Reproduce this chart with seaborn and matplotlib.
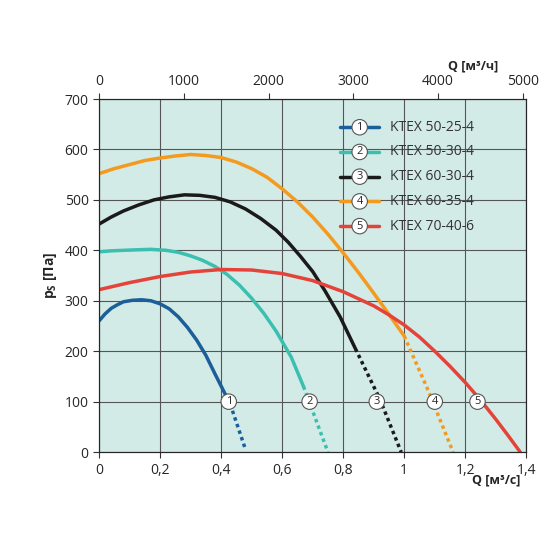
import matplotlib
matplotlib.use("Agg")
import matplotlib.pyplot as plt
import seaborn as sns
import pandas as pd

names = ["KTEX 50-25-4", "KTEX 50-30-4", "KTEX 60-30-4", "KTEX 60-35-4", "KTEX 70-40-6"]
colors = ["#1a5e9a", "#3bbfb0", "#1a1a1a", "#f39a1f", "#e5433a"]
solid_q = [
    [0, 0.02, 0.04, 0.06, 0.08, 0.11, 0.14, 0.17, 0.2, 0.23, 0.26, 0.29, 0.32, 0.35, 0.38, 0.405, 0.43],
    [0, 0.04, 0.08, 0.12, 0.17, 0.22, 0.26, 0.3, 0.34, 0.38, 0.42, 0.46, 0.5, 0.54, 0.58, 0.63, 0.67],
    [0, 0.04, 0.08, 0.13, 0.18, 0.23, 0.28, 0.33, 0.38, 0.43, 0.48, 0.53, 0.58, 0.62, 0.66, 0.7, 0.74, 0.79, 0.84],
    [0, 0.05, 0.1, 0.15, 0.2, 0.25, 0.3, 0.35, 0.4, 0.45, 0.5, 0.55, 0.6, 0.65, 0.7, 0.75, 0.8, 0.85, 0.9, 0.95, 1.0],
    [0, 0.1, 0.2, 0.3, 0.4, 0.5, 0.6, 0.7, 0.8, 0.9, 0.95, 1.0, 1.05, 1.1, 1.15, 1.2, 1.25, 1.3, 1.34, 1.38],
]
solid_p = [
    [260, 274, 285, 292, 298, 301, 302, 300, 294, 284, 268, 247, 222, 192, 155, 125, 95],
    [397, 399, 400, 401, 402, 400, 396, 389, 380, 368, 352, 331, 305, 275, 240, 188, 130],
    [452, 466, 478, 490, 500, 506, 510, 509, 505, 496, 482, 463, 440, 416, 388, 358, 320, 268, 205],
    [552, 562, 570, 578, 583, 587, 590, 588, 584, 575, 562, 545, 522, 496, 466, 432, 395, 356, 315, 273, 230],
    [322, 336, 348, 357, 362, 361, 354, 340, 318, 290, 272, 252, 228, 200, 170, 138, 103, 65, 33, 0],
]
dot_q = [[0.43, 0.455, 0.48], [0.67, 0.71, 0.75], [0.84, 0.92, 0.99], [1.0, 1.08, 1.16], []]
dot_p = [[95, 50, 5], [130, 65, 0], [205, 105, 0], [230, 120, 0], []]
label_q = [0.425, 0.69, 0.91, 1.1, 1.24]

sns.set_style("white")
plt.rcParams["font.family"] = ["Open Sans", "DejaVu Sans"]
fig, ax = plt.subplots(figsize=(5.5, 5.5), dpi=100)
fig.subplots_adjust(left=0.18, right=0.957, top=0.82, bottom=0.178)
ax.set_facecolor("#d3ebe6")

for i in range(5):
    df = pd.DataFrame({"q": solid_q[i], "p": solid_p[i]})
    sns.lineplot(data=df, x="q", y="p", ax=ax, color=colors[i], lw=2.5, sort=False)
    if dot_q[i]:
        dd = pd.DataFrame({"q": dot_q[i], "p": dot_p[i]})
        sns.lineplot(data=dd, x="q", y="p", ax=ax, color=colors[i], lw=2.5, ls=(0, (1, 1)), sort=False)
    ax.text(label_q[i], 100, str(i + 1), ha="center", va="center", fontsize=8,
            bbox=dict(boxstyle="circle,pad=0.2", fc="white", ec="#555555", lw=0.8), zorder=5)

ax.set_xlim(0, 1.4)
ax.set_ylim(0, 700)
ax.set_xticks([0, 0.2, 0.4, 0.6, 0.8, 1.0, 1.2, 1.4])
ax.set_xticklabels(["0", "0,2", "0,4", "0,6", "0,8", "1", "1,2", "1,4"])
ax.set_yticks(range(0, 701, 100))
ax.grid(True, color="#555555", lw=0.8)
for s in ax.spines.values():
    s.set_color("#333333")
ax.tick_params(labelsize=10, length=4, direction="out", bottom=True, left=True, color="#333333")
ax.set_xlabel("")
ax.set_ylabel("p$_\\mathregular{S}$ [Па]", fontsize=10, fontweight="bold")
ax.text(0.985, -0.06, "Q [м³/с]", transform=ax.transAxes, ha="right", va="top", fontsize=9, fontweight="bold")

top = ax.twiny()
top.set_xlim(0, 1.4 * 3600)
top.set_xticks(range(0, 5001, 1000))
top.tick_params(labelsize=10, length=4, color="#333333")
top.text(0.935, 1.075, "Q [м³/ч]", transform=ax.transAxes, ha="right", va="bottom", fontsize=9, fontweight="bold")

for i in range(5):
    y = 0.92 - i * 0.07
    ax.plot([0.565, 0.655], [y, y], transform=ax.transAxes, color=colors[i], lw=2.5)
    ax.text(0.61, y, str(i + 1), transform=ax.transAxes, ha="center", va="center", fontsize=8,
            bbox=dict(boxstyle="circle,pad=0.2", fc="white", ec="#555555", lw=0.8))
    ax.text(0.68, y, names[i], transform=ax.transAxes, ha="left", va="center", fontsize=10, color="#333333")

fig.savefig("out.png")
